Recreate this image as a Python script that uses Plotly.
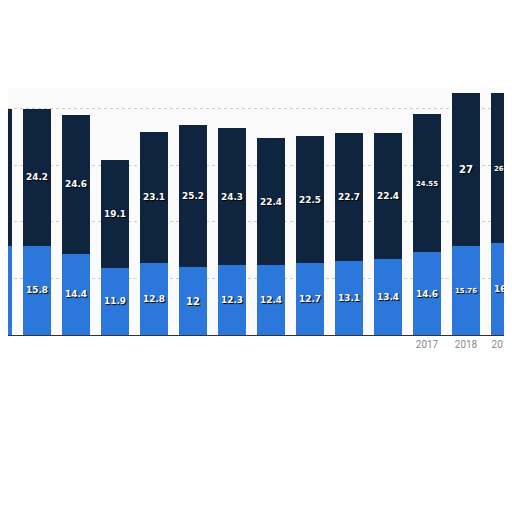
import plotly.graph_objects as go

years = [2006, 2007, 2008, 2009, 2010, 2011, 2012, 2013, 2014, 2015, 2016, 2017, 2018, 2019, 2020]
tick_labels = ["", "", "", "", "", "", "", "", "", "", "", "2017", "2018", "2019*", ""]
lower = [15.7, 15.8, 14.4, 11.9, 12.8, 12, 12.3, 12.4, 12.7, 13.1, 13.4, 14.6, 15.76, 16.2, 16.6]
upper = [24.3, 24.2, 24.6, 19.1, 23.1, 25.2, 24.3, 22.4, 22.5, 22.7, 22.4, 24.55, 27, 26.65, 27.2]
lower_text = [""] + [str(v) for v in lower[1:-1]] + [""]
upper_text = [""] + [str(v) for v in upper[1:-1]] + [""]

tf = dict(color="white", size=10, family="DejaVu Sans", weight="bold", shadow="1px 1px 1px #000")
fig = go.Figure()
fig.add_bar(x=years, y=lower, marker_color="#2b77db", width=0.72,
            text=lower_text, textposition="inside", insidetextanchor="middle", textangle=0,
            textfont=tf, marker_line_width=0, cliponaxis=True)
fig.add_bar(x=years, y=upper, marker_color="#0f253f", width=0.72,
            text=upper_text, textposition="inside", insidetextanchor="middle", textangle=0,
            textfont=tf, marker_line_width=0, cliponaxis=True)
fig.update_layout(
    barmode="stack", width=512, height=512, showlegend=False,
    margin=dict(l=0, r=0, t=80, b=185, autoexpand=False),
    paper_bgcolor="white", plot_bgcolor="#fbfbfb",
    xaxis=dict(range=[2006.256, 2019.385], tickvals=years, ticktext=tick_labels, automargin=False,
               tickfont=dict(color="#888", size=10, family="Roboto"), showgrid=False,
               showline=True, linecolor="#333", ticks=""),
    yaxis=dict(range=[0, 43.7], showticklabels=False, gridcolor="#ccc", griddash="dot",
               dtick=10, zeroline=False, automargin=False),
)
fig.write_html("out.html")
